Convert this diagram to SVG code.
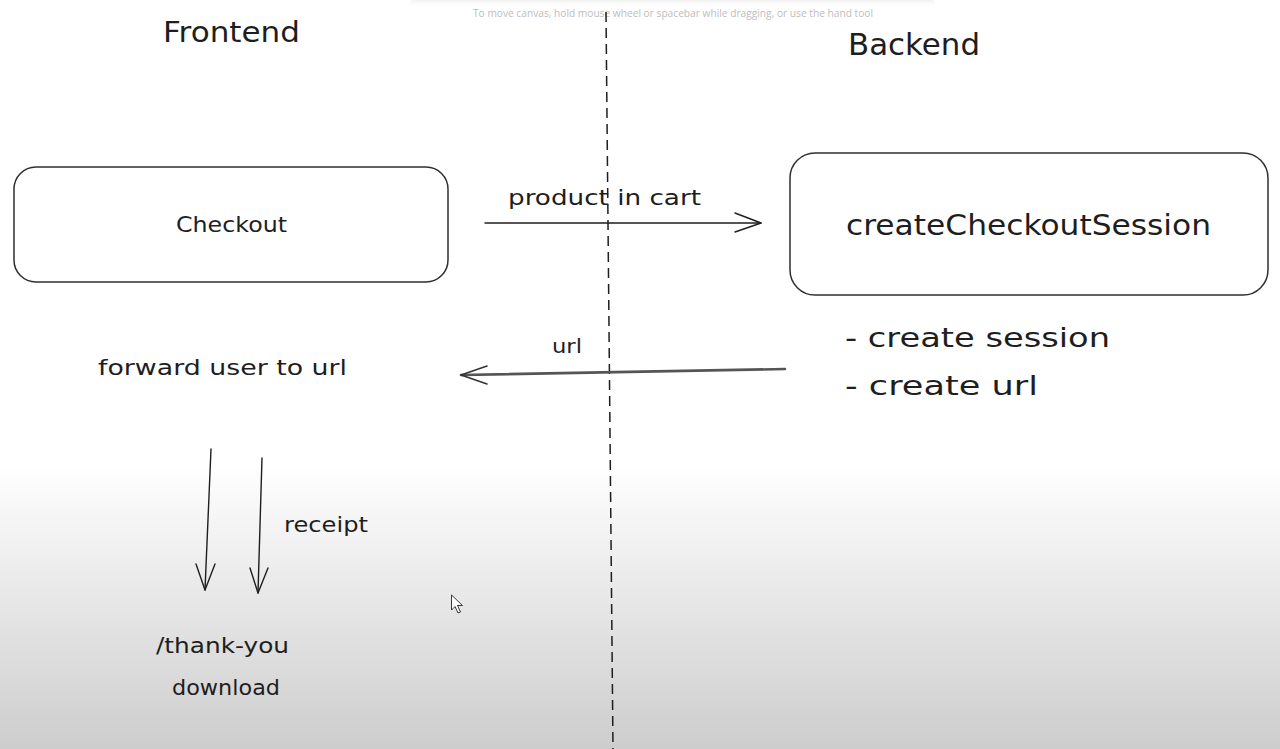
<svg xmlns="http://www.w3.org/2000/svg" width="1280" height="749" viewBox="0 0 1280 749">
<defs>
<linearGradient id="bg" x1="0" y1="0" x2="0" y2="1">
<stop offset="0" stop-color="#ffffff"/>
<stop offset="0.62" stop-color="#ffffff"/>
<stop offset="1" stop-color="#cdcdcd"/>
</linearGradient>
<linearGradient id="topshade" x1="0" y1="0" x2="0" y2="1">
<stop offset="0" stop-color="#f1f1f1"/>
<stop offset="1" stop-color="#ffffff" stop-opacity="0"/>
</linearGradient>
<style>
.t{font-family:"DejaVu Sans","Noto Sans",sans-serif;fill:#1e1e1e}
.box{fill:none;stroke:#2f2f2f;stroke-width:1.5}
.ln{fill:none;stroke:#1e1e1e;stroke-width:1.4;stroke-linecap:round;stroke-linejoin:round}
</style>
</defs>
<rect x="0" y="0" width="1280" height="749" fill="url(#bg)"/>
<rect x="410" y="0" width="525" height="8" rx="4" fill="url(#topshade)"/>
<text x="473" y="17" font-family="Open Sans,Liberation Sans,sans-serif" font-size="10.5" fill="#bdbdbd" textLength="400" lengthAdjust="spacingAndGlyphs">To move canvas, hold mouse wheel or spacebar while dragging, or use the hand tool</text>

<g id="divider">
<line x1="606" y1="12" x2="613" y2="749" stroke="#1e1e1e" stroke-width="1.5" stroke-dasharray="10 6"/>
</g>

<g id="frontend-title"><text class="t" x="163" y="42" font-size="28" textLength="137" lengthAdjust="spacingAndGlyphs">Frontend</text></g>
<g id="backend-title"><text class="t" x="848" y="55" font-size="30" textLength="132" lengthAdjust="spacingAndGlyphs">Backend</text></g>

<g id="checkout">
<rect class="box" x="14" y="167" width="434" height="115" rx="22"/>
<text class="t" x="176" y="232" font-size="22" textLength="111" lengthAdjust="spacingAndGlyphs">Checkout</text>
</g>

<g id="createCheckoutSession">
<rect class="box" x="790" y="153" width="478" height="142" rx="25"/>
<text class="t" x="846" y="235" font-size="28" textLength="365" lengthAdjust="spacingAndGlyphs">createCheckoutSession</text>
</g>

<g id="backend-notes">
<text class="t" x="845" y="347" font-size="26" textLength="265" lengthAdjust="spacingAndGlyphs">- create session</text>
<text class="t" x="845" y="395" font-size="26" textLength="193" lengthAdjust="spacingAndGlyphs">- create url</text>
</g>

<g id="forward">
<text class="t" x="98" y="375" font-size="22" textLength="249" lengthAdjust="spacingAndGlyphs">forward user to url</text>
</g>

<g id="thank-you">
<text class="t" x="156" y="653" font-size="22" textLength="133" lengthAdjust="spacingAndGlyphs">/thank-you</text>
<text class="t" x="172" y="695" font-size="22" textLength="108" lengthAdjust="spacingAndGlyphs">download</text>
</g>

<g id="connectors">
<line class="ln" x1="485" y1="223" x2="761" y2="223"/>
<polyline class="ln" points="735,213 761,223 735,232"/>
<text class="t" x="508" y="205" font-size="21" textLength="193" lengthAdjust="spacingAndGlyphs">product in cart</text>

<line x1="785" y1="369" x2="461" y2="375" stroke="#555" stroke-width="2.6" stroke-linecap="round"/>
<polyline points="487,366 461,375 487,384" fill="none" stroke="#333" stroke-width="1.6" stroke-linecap="round" stroke-linejoin="round"/>
<text class="t" x="552" y="353" font-size="20" textLength="30" lengthAdjust="spacingAndGlyphs">url</text>

<line class="ln" x1="211" y1="449" x2="205" y2="590"/>
<polyline class="ln" points="196,564 205,590 215,564"/>
<line class="ln" x1="262" y1="458" x2="258" y2="593"/>
<polyline class="ln" points="250,568 258,593 268,568"/>
<text class="t" x="284" y="532" font-size="22" textLength="84" lengthAdjust="spacingAndGlyphs">receipt</text>
</g>

<path d="M451.5,595 L451.5,610 L455,606.5 L458,613 L460.5,612 L457.5,605.5 L462.5,605.5 Z" fill="#ffffff" stroke="#222" stroke-width="0.9" stroke-linejoin="round"/>
</svg>
